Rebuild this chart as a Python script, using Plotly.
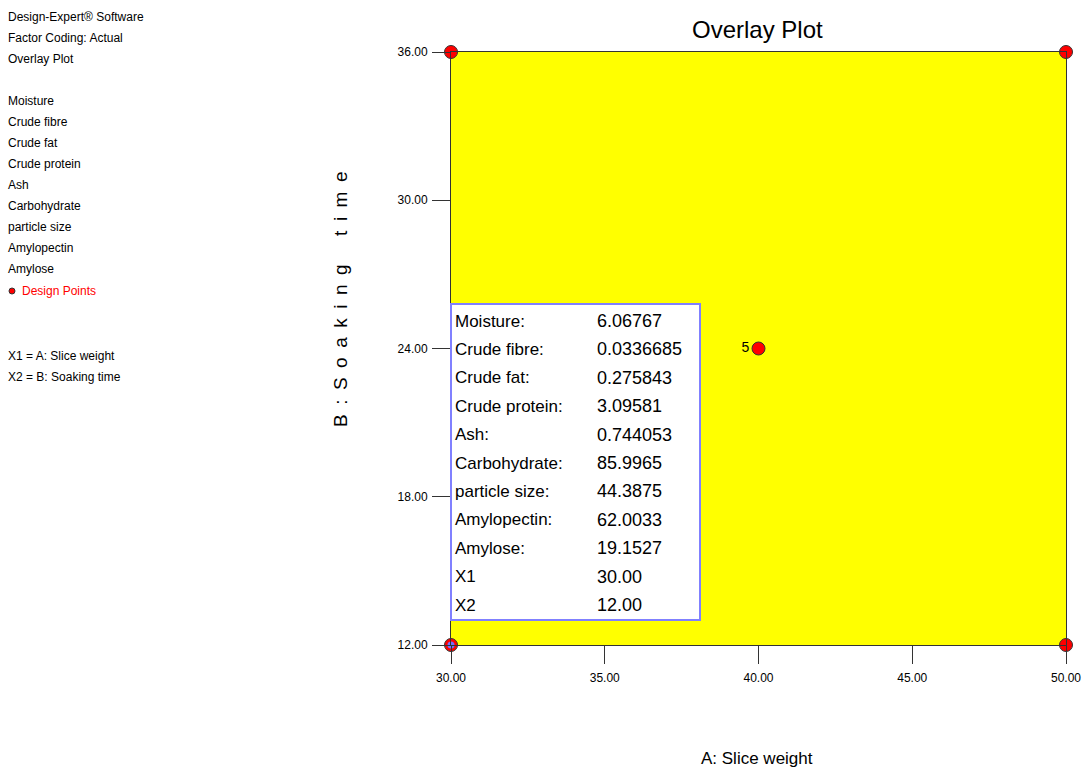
import plotly.graph_objects as go

# Design points (A: Slice weight, B: Soaking time)
pt_x = [30, 50, 30, 50, 40]
pt_y = [36, 36, 12, 12, 24]
pt_labels = ["", "", "", "", "5"]

x_ticks = [30, 35, 40, 45, 50]
y_ticks = [12, 18, 24, 30, 36]

# Flag read-out
flag_names = ["Moisture:", "Crude fibre:", "Crude fat:", "Crude protein:", "Ash:",
              "Carbohydrate:", "particle size:", "Amylopectin:", "Amylose:", "X1", "X2"]
flag_values = ["6.06767", "0.0336685", "0.275843", "3.09581", "0.744053",
               "85.9965", "44.3875", "62.0033", "19.1527", "30.00", "12.00"]
flag_x, flag_y = 30, 12

side_lines = ["Design-Expert® Software", "Factor Coding: Actual", "Overlay Plot", "",
              "Moisture", "Crude fibre", "Crude fat", "Crude protein", "Ash",
              "Carbohydrate", "particle size", "Amylopectin", "Amylose"]

FONT = "Liberation Sans, Arial, sans-serif"

# plot area in pixels
L, R, T, B = 451, 1066, 52, 645
PW, PH = R - L, B - T


def px(x):
    return (x - L) / PW


def py(y):
    return (B - y) / PH


fig = go.Figure()

fig.add_trace(go.Scatter(
    x=pt_x, y=pt_y, mode="markers+text", text=pt_labels, textposition="middle left",
    textfont=dict(family=FONT, size=14, color="black"),
    marker=dict(color="red", size=13, line=dict(color="#333333", width=1)),
    cliponaxis=False, showlegend=False, hoverinfo="skip"))

# flag marker
fig.add_trace(go.Scatter(
    x=[flag_x], y=[flag_y], mode="markers",
    marker=dict(color="#7070ff", size=7),
    cliponaxis=False, showlegend=False, hoverinfo="skip"))

# Flag box
fig.add_shape(type="rect", xref="paper", yref="paper",
              x0=0.0, x1=px(700), y0=py(620), y1=py(304),
              fillcolor="white", line=dict(color="#8080ff", width=2), layer="above")

row0, step = 321, 28.4
for i, (n, v) in enumerate(zip(flag_names, flag_values)):
    yp = py(row0 + i * step)
    fig.add_annotation(xref="paper", yref="paper", x=px(453), y=yp, text=n,
                       showarrow=False, xanchor="left", yanchor="middle",
                       font=dict(family=FONT, size=17, color="black"))
    fig.add_annotation(xref="paper", yref="paper", x=px(595), y=yp, text=v,
                       showarrow=False, xanchor="left", yanchor="middle",
                       font=dict(family=FONT, size=18, color="black"))

# Side notes
for i, s in enumerate(side_lines):
    if not s:
        continue
    fig.add_annotation(xref="paper", yref="paper", x=px(6), y=py(17 + i * 21), text=s,
                       showarrow=False, xanchor="left", yanchor="middle",
                       font=dict(family=FONT, size=12, color="black"))

dp_y = py(291)
fig.add_shape(type="circle", xref="paper", yref="paper",
              x0=px(9), x1=px(15), y0=py(294), y1=py(288),
              fillcolor="red", line=dict(color="#333333", width=1))
fig.add_annotation(xref="paper", yref="paper", x=px(20), y=dp_y, text="Design Points",
                   showarrow=False, xanchor="left", yanchor="middle",
                   font=dict(family=FONT, size=12, color="red"))
for j, s in enumerate(["X1 = A: Slice weight", "X2 = B: Soaking time"]):
    fig.add_annotation(xref="paper", yref="paper", x=px(6), y=py(356 + j * 21), text=s,
                       showarrow=False, xanchor="left", yanchor="middle",
                       font=dict(family=FONT, size=12, color="black"))

# Axis titles
sp = "\u2002"
y_title = sp.join("B:Soaking") + sp * 3 + sp.join("time")
fig.add_annotation(xref="paper", yref="paper", x=px(340), y=py(299),
                   text=y_title, textangle=-90, showarrow=False,
                   xanchor="center", yanchor="middle",
                   font=dict(family=FONT, size=19, color="black"))
fig.add_annotation(xref="paper", yref="paper", x=px(757), y=py(758),
                   text="A: Slice weight", showarrow=False, xanchor="center", yanchor="middle",
                   font=dict(family=FONT, size=17, color="black"))
fig.add_annotation(xref="paper", yref="paper", x=px(757), y=py(30),
                   text="Overlay Plot", showarrow=False, xanchor="center", yanchor="middle",
                   font=dict(family=FONT, size=24, color="black"))

fig.update_layout(
    width=1083, height=771, autosize=False,
    margin=dict(l=L, r=1083 - R, t=T, b=771 - B, autoexpand=False),
    paper_bgcolor="white", plot_bgcolor="#ffff00",
    xaxis=dict(range=[30, 50], tickvals=x_ticks, ticktext=[f"{v:.2f}" for v in x_ticks],
               ticks="outside", ticklen=18, tickcolor="#333333", showgrid=False,
               zeroline=False, showline=True, linecolor="#333333", mirror=True,
               automargin=False, fixedrange=True, ticklabelstandoff=4,
               tickfont=dict(family=FONT, size=12, color="black")),
    yaxis=dict(range=[12, 36], tickvals=y_ticks, ticktext=[f"{v:.2f}" for v in y_ticks],
               ticks="outside", ticklen=18, tickcolor="#333333", showgrid=False,
               zeroline=False, showline=True, linecolor="#333333", mirror=True,
               automargin=False, fixedrange=True, ticklabelstandoff=2,
               tickfont=dict(family=FONT, size=12, color="black")),
)

fig.write_html("out.html")
